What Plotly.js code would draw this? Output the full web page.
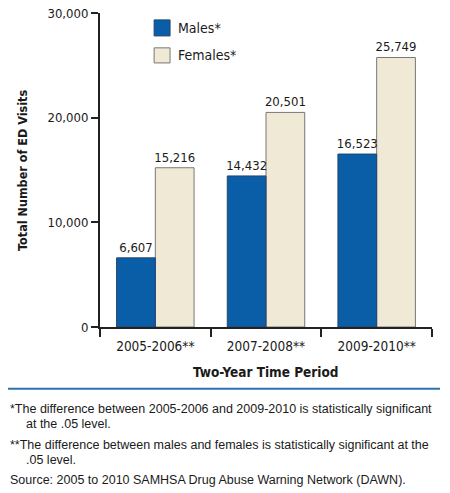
<!DOCTYPE html>
<html>
<head>
<meta charset="utf-8">
<script src="https://cdn.plot.ly/plotly-3.0.1.min.js"></script>
<style>
  body { margin: 0; background: #fff; }
  #chart { width: 450px; height: 493px; }
</style>
</head>
<body>
<div id="chart"></div>
<script>
// two-year periods and ED visit counts
var periods = ['2005-2006**', '2007-2008**', '2009-2010**'];
var males = [6607, 14432, 16523];
var females = [15216, 20501, 25749];
var seriesNames = ['Males*', 'Females*'];
var yTicks = [0, 10000, 20000, 30000];
var yTickText = ['0', '10,000', '20,000', '30,000'];
var footnotes = [
    '*The difference between 2005-2006 and 2009-2010 is statistically significant',
    'at the .05 level.',
    '**The difference between males and females is statistically significant at the',
    '.05 level.',
    'Source: 2005 to 2010 SAMHSA Drug Abuse Warning Network (DAWN).'
];

var narrow = "'DejaVu Sans Condensed', 'Liberation Sans', sans-serif";
var plain = "'Liberation Sans', Arial, sans-serif";
var blue = '#0a5ea8';
var beige = '#f0e9d6';

function fmt(v) { return v.toLocaleString('en-US'); }

// explicit offsets so the females can be drawn first and the male labels stay on top
var trace1 = {
    x: periods,
    y: males,
    name: seriesNames[0],
    type: 'bar',
    width: 0.35,
    offset: -0.35,
    marker: { color: blue, line: { color: '#24456b', width: 1 } },
    text: males.map(fmt),
    textposition: 'outside',
    constraintext: 'none',
    cliponaxis: false,
    textfont: { family: narrow, size: 13, color: '#1a1a1a' },
    hoverinfo: 'none'
};

var trace2 = {
    x: periods,
    y: females,
    name: seriesNames[1],
    type: 'bar',
    width: 0.35,
    offset: 0,
    marker: { color: beige, line: { color: '#777', width: 1 } },
    text: females.map(fmt),
    textposition: 'outside',
    constraintext: 'none',
    cliponaxis: false,
    textfont: { family: narrow, size: 13, color: '#1a1a1a' },
    hoverinfo: 'none'
};

var data = [trace2, trace1];

var annotations = [
    { text: 'Total Number of ED Visits', xref: 'paper', yref: 'paper', x: -0.235, y: 0.5,
      xanchor: 'center', yanchor: 'middle', textangle: -90, showarrow: false,
      font: { family: narrow, size: 12.5, color: '#1a1a1a', weight: 'bold' } },
    { text: 'Two-Year Time Period', xref: 'paper', yref: 'paper', x: 0.5, y: -0.143,
      xanchor: 'center', yanchor: 'middle', showarrow: false,
      font: { family: narrow, size: 13.5, color: '#1a1a1a', weight: 'bold' } },
    { text: seriesNames[0], xref: 'paper', yref: 'paper', x: 0.228, y: 0.952,
      xanchor: 'left', yanchor: 'middle', showarrow: false,
      font: { family: narrow, size: 14, color: '#1a1a1a' } },
    { text: seriesNames[1], xref: 'paper', yref: 'paper', x: 0.228, y: 0.866,
      xanchor: 'left', yanchor: 'middle', showarrow: false,
      font: { family: narrow, size: 14, color: '#1a1a1a' } }
];
var noteY = [-0.261, -0.309, -0.376, -0.424, -0.487];
var noteX = [-0.277, -0.229, -0.277, -0.229, -0.277];
footnotes.forEach(function (t, i) {
    annotations.push({ text: t, xref: 'paper', yref: 'paper', x: noteX[i], y: noteY[i],
        xanchor: 'left', yanchor: 'middle', showarrow: false,
        font: { family: plain, size: 12.5, color: '#1a1a1a' } });
});

var layout = {
    width: 450,
    height: 493,
    margin: { l: 100, r: 18, t: 13, b: 166 },
    paper_bgcolor: '#fff',
    plot_bgcolor: '#fff',
    showlegend: false,
    barmode: 'overlay',
    font: { family: narrow, size: 14, color: '#1a1a1a' },
    xaxis: {
        type: 'category',
        categoryorder: 'array',
        categoryarray: periods,
        tickson: 'boundaries',
        ticks: 'outside',
        ticklen: 8,
        tickwidth: 2,
        tickcolor: '#222',
        showline: true,
        linecolor: '#222',
        linewidth: 2,
        ticklabelstandoff: 6,
        tickfont: { family: narrow, size: 13.5, color: '#1a1a1a' }
    },
    yaxis: {
        range: [0, 30000],
        tickvals: yTicks,
        ticktext: yTickText,
        ticks: 'outside',
        ticklen: 7,
        tickwidth: 2,
        tickcolor: '#222',
        showline: true,
        linecolor: '#222',
        linewidth: 2,
        showgrid: false,
        zeroline: false,
        tickfont: { family: narrow, size: 13, color: '#1a1a1a' }
    },
    shapes: [
        { type: 'rect', xref: 'paper', yref: 'paper', x0: 0.163, x1: 0.211, y0: 0.927, y1: 0.978,
          fillcolor: blue, line: { color: '#24456b', width: 1 } },
        { type: 'rect', xref: 'paper', yref: 'paper', x0: 0.163, x1: 0.211, y0: 0.841, y1: 0.889,
          fillcolor: beige, line: { color: '#777', width: 1 } },
        { type: 'line', xref: 'paper', yref: 'paper', x0: -0.277, x1: 1.024, y0: -0.197, y1: -0.197,
          line: { color: '#2a72b0', width: 2 } }
    ],
    annotations: annotations
};

Plotly.newPlot('chart', data, layout, { displayModeBar: false, staticPlot: true });
</script>
</body>
</html>
